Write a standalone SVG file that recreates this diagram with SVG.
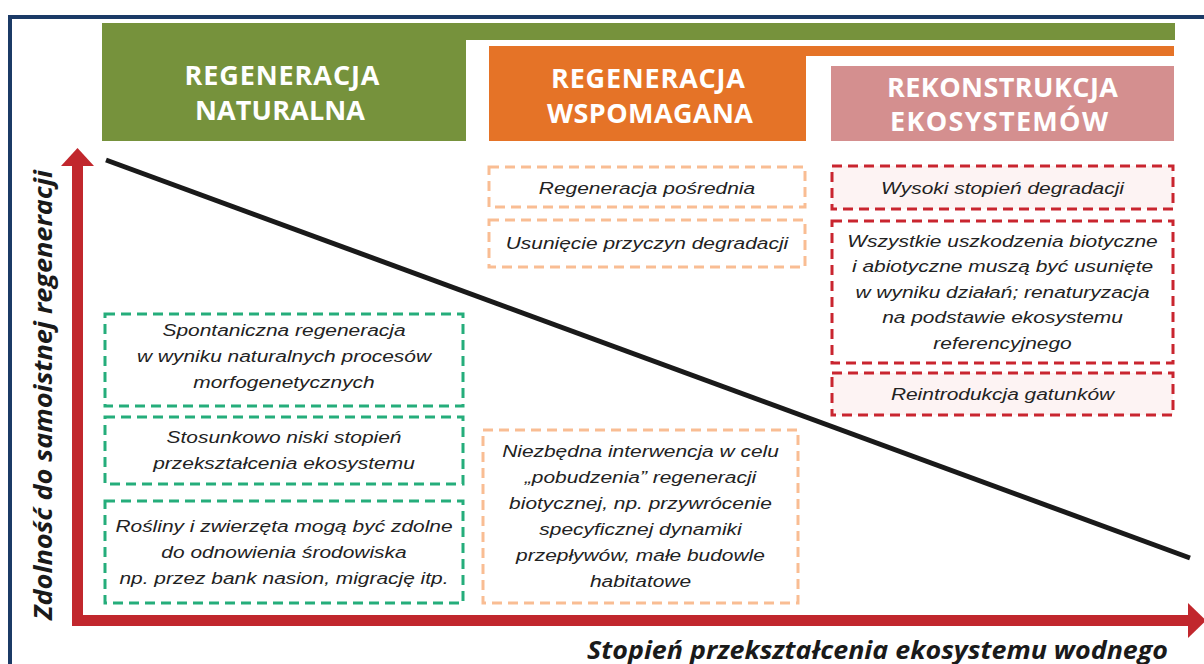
<svg xmlns="http://www.w3.org/2000/svg" width="1204" height="664" viewBox="0 0 1204 664">
<style>
.hd{font-family:"Open Sans","Liberation Sans",Arial,sans-serif;font-weight:700;font-size:27px;fill:#fff;text-anchor:middle}
.t{font-family:"Liberation Sans",Arial,sans-serif;font-style:italic;font-size:17.3px;fill:#222;text-anchor:middle}
.ax{font-family:"Open Sans","Liberation Sans",Arial,sans-serif;font-weight:700;font-style:italic;font-size:25px;fill:#1a1a1a}
.g{fill:#fff;stroke:#25ad7b;stroke-width:3;stroke-dasharray:10 6}
.o{fill:#fff;stroke:#f9bd93;stroke-width:3;stroke-dasharray:10 6}
.r{fill:#fff;stroke:#c9252f;stroke-width:3;stroke-dasharray:10 6}
.rp{fill:#fdf3f3;stroke:#c9252f;stroke-width:3;stroke-dasharray:10 6}
</style>
<rect width="1204" height="664" fill="#fff"/>
<path d="M10,664 V17 H1206" fill="none" stroke="#1b3a66" stroke-width="4"/>

<g id="header-naturalna">
<polygon points="102,23 1175,23 1175,40 466,40 466,141 102,141" fill="#76923c"/>
<text class="hd" x="282" y="85" textLength="195">REGENERACJA</text>
<text class="hd" x="280" y="120" textLength="170">NATURALNA</text>
</g>
<g id="header-wspomagana">
<polygon points="489,46 1174,46 1174,56 806,56 806,141 489,141" fill="#e57327"/>
<text class="hd" x="648" y="88" textLength="194">REGENERACJA</text>
<text class="hd" x="650" y="123" textLength="206">WSPOMAGANA</text>
</g>
<g id="header-rekonstrukcja">
<rect x="831" y="66" width="343" height="75" fill="#d48f8f"/>
<text class="hd" x="1002.5" y="97" textLength="231">REKONSTRUKCJA</text>
<text class="hd" x="999" y="131" textLength="218">EKOSYSTEMÓW</text>
</g>

<g id="axes">
<path d="M77.5,166 V620.5 H1188" fill="none" stroke="#c1272d" stroke-width="11" stroke-linejoin="miter"/>
<polygon points="61,166 77.5,148 94,166" fill="#c1272d"/>
<polygon points="1188,603 1206,620.5 1188,638" fill="#c1272d"/>
<text class="ax" transform="translate(52 395) rotate(-90)" text-anchor="middle" textLength="450" lengthAdjust="spacingAndGlyphs">Zdolność do samoistnej regeneracji</text>
<text class="ax" x="587" y="659" textLength="581" lengthAdjust="spacingAndGlyphs">Stopień przekształcenia ekosystemu wodnego</text>
</g>

<g id="connectors">
<line x1="106" y1="160" x2="1190" y2="558" stroke="#1a1a1a" stroke-width="5"/>
</g>

<g id="n-spontaniczna">
<rect class="g" x="105" y="314" width="358" height="92"/>
<g transform="translate(284 0) scale(1.21 1)">
<text class="t" x="0" y="336">Spontaniczna regeneracja</text>
<text class="t" x="0" y="362">w wyniku naturalnych procesów</text>
<text class="t" x="0" y="388">morfogenetycznych</text>
</g>
</g>
<g id="n-stosunkowo">
<rect class="g" x="105" y="417" width="358" height="67"/>
<g transform="translate(284 0) scale(1.21 1)">
<text class="t" x="0" y="443">Stosunkowo niski stopień</text>
<text class="t" x="0" y="469">przekształcenia ekosystemu</text>
</g>
</g>
<g id="n-rosliny">
<rect class="g" x="105" y="501" width="358" height="102"/>
<g transform="translate(284 0) scale(1.21 1)">
<text class="t" x="0" y="532">Rośliny i zwierzęta mogą być zdolne</text>
<text class="t" x="0" y="558">do odnowienia środowiska</text>
<text class="t" x="0" y="584">np. przez bank nasion, migrację itp.</text>
</g>
</g>

<g id="n-posrednia">
<rect class="o" x="489" y="167" width="316" height="40"/>
<g transform="translate(647 0) scale(1.21 1)">
<text class="t" x="0" y="194">Regeneracja pośrednia</text>
</g>
</g>
<g id="n-usuniecie">
<rect class="o" x="489" y="220" width="316" height="47"/>
<g transform="translate(647 0) scale(1.21 1)">
<text class="t" x="0" y="249">Usunięcie przyczyn degradacji</text>
</g>
</g>
<g id="n-niezbedna">
<rect class="o" x="483" y="430" width="315" height="173"/>
<g transform="translate(640.5 0) scale(1.21 1)">
<text class="t" x="0" y="457">Niezbędna interwencja w celu</text>
<text class="t" x="0" y="483">„pobudzenia” regeneracji</text>
<text class="t" x="0" y="509">biotycznej, np. przywrócenie</text>
<text class="t" x="0" y="535">specyficznej dynamiki</text>
<text class="t" x="0" y="561">przepływów, małe budowle</text>
<text class="t" x="0" y="587">habitatowe</text>
</g>
</g>

<g id="n-wysoki">
<rect class="rp" x="832" y="166" width="341" height="43"/>
<g transform="translate(1002.5 0) scale(1.21 1)">
<text class="t" x="0" y="194">Wysoki stopień degradacji</text>
</g>
</g>
<g id="n-wszystkie">
<rect class="r" x="832" y="221" width="341" height="142"/>
<g transform="translate(1002.5 0) scale(1.21 1)">
<text class="t" x="0" y="247">Wszystkie uszkodzenia biotyczne</text>
<text class="t" x="0" y="272.5">i abiotyczne muszą być usunięte</text>
<text class="t" x="0" y="298">w wyniku działań; renaturyzacja</text>
<text class="t" x="0" y="323.5">na podstawie ekosystemu</text>
<text class="t" x="0" y="349">referencyjnego</text>
</g>
</g>
<g id="n-reintrodukcja">
<rect class="rp" x="832" y="373" width="341" height="42"/>
<g transform="translate(1002.5 0) scale(1.21 1)">
<text class="t" x="0" y="400">Reintrodukcja gatunków</text>
</g>
</g>
</svg>
